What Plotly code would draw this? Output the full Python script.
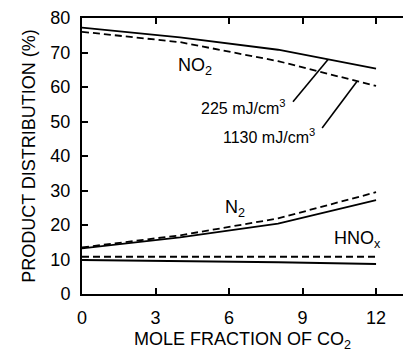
import plotly.graph_objects as go

x_co2 = [0, 4, 8, 12]
no2_225 = [77.2, 74.4, 70.8, 65.3]
no2_1130 = [76.0, 73.0, 67.5, 60.3]
n2_225 = [13.2, 16.4, 20.4, 27.2]
n2_1130 = [13.5, 17.0, 21.9, 29.5]
hnox_225 = [9.85, 9.55, 9.2, 8.7]
hnox_1130 = [10.8, 10.8, 10.8, 10.8]

x_ticks = [0, 3, 6, 9, 12]
y_ticks = [0, 10, 20, 30, 40, 50, 60, 70, 80]

FONT = "Liberation Sans, Arial, sans-serif"
fig = go.Figure()
series = [
    (no2_225, "solid"), (no2_1130, "7px,4px"),
    (n2_225, "solid"), (n2_1130, "7px,4px"),
    (hnox_225, "solid"), (hnox_1130, "7px,4px"),
]
for ys, dash in series:
    fig.add_trace(go.Scatter(x=x_co2, y=ys, mode="lines",
                             line=dict(color="black", width=1.8, dash=dash),
                             showlegend=False, hoverinfo="skip"))

# leader lines
fig.add_shape(type="line", x0=8.61, y0=55.7, x1=10.04, y1=68.0,
              line=dict(color="black", width=1.6))
fig.add_shape(type="line", x0=9.80, y0=48.1, x1=11.22, y1=61.6,
              line=dict(color="black", width=1.6))

ann = [
    dict(x=3.84, y=66.0, text="NO<sub>2</sub>", xanchor="left", yanchor="middle", size=18),
    dict(x=8.37, y=54.2, text="225 mJ/cm<sup>3</sup>", xanchor="right", yanchor="middle", size=16),
    dict(x=9.59, y=45.8, text="1130 mJ/cm<sup>3</sup>", xanchor="right", yanchor="middle", size=16),
    dict(x=5.76, y=24.9, text="N<sub>2</sub>", xanchor="left", yanchor="middle", size=18),
    dict(x=10.2, y=15.8, text="HNO<sub>x</sub>", xanchor="left", yanchor="middle", size=18),
]
for a in ann:
    fig.add_annotation(x=a["x"], y=a["y"], text=a["text"], xanchor=a["xanchor"],
                       yanchor=a["yanchor"], showarrow=False,
                       font=dict(family=FONT, size=a["size"], color="black"))

fig.update_layout(
    width=403, height=354,
    margin=dict(l=82, r=0, t=18, b=60),
    paper_bgcolor="white", plot_bgcolor="white",
    font=dict(family=FONT, size=18, color="black"),
)
fig.update_xaxes(range=[0, 13.1], tickvals=x_ticks, ticks="inside", ticklen=6,
                 tickwidth=1.5, tickcolor="black", showline=True, linecolor="black",
                 linewidth=2, mirror="ticks", showgrid=False, zeroline=False,
                 ticklabelstandoff=6,
                 title=dict(text="MOLE FRACTION OF CO<sub>2</sub>", standoff=6,
                            font=dict(size=18)),
                 tickfont=dict(size=18))
fig.update_yaxes(range=[0, 80], tickvals=y_ticks, ticks="inside", ticklen=6,
                 tickwidth=1.5, tickcolor="black", showline=True, linecolor="black",
                 linewidth=2, showgrid=False, zeroline=False,
                 ticklabelstandoff=6,
                 title=dict(text="PRODUCT DISTRIBUTION (%)", standoff=10,
                            font=dict(size=18)),
                 tickfont=dict(size=18))

fig.write_html("out.html")
